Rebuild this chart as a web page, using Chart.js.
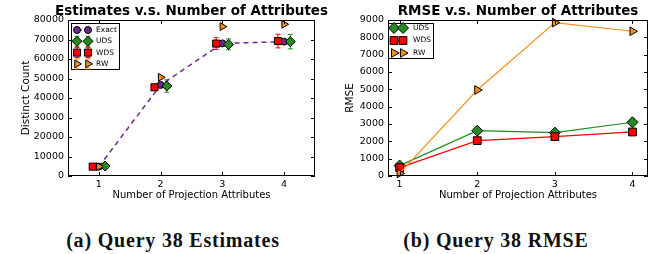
<!DOCTYPE html>
<html>
<head>
<meta charset="utf-8">
<script src="https://cdn.jsdelivr.net/npm/chart.js@4.4.1/dist/chart.umd.min.js"></script>
<style>
  body { margin: 0; background: #fff; width: 660px; height: 254px; position: relative; overflow: hidden; }
  canvas { position: absolute; top: 0; }
  #c1 { left: 0; }
  #c2 { left: 330px; }
  .cap { position: absolute; top: 229px; font: bold 20px "Liberation Serif", serif; letter-spacing: 0.8px; color: #111; white-space: nowrap; transform: translateX(-50%); }
</style>
</head>
<body>
<canvas id="c1" width="330" height="203"></canvas>
<canvas id="c2" width="330" height="203"></canvas>
<div class="cap" style="left:173px">(a) Query 38 Estimates</div>
<div class="cap" style="left:496px">(b) Query 38 RMSE</div>
<script>
// number of projection attributes (x positions)
const attrs = [1, 2, 3, 4];
const xTickValues = [1, 2, 3, 4];

// (a) estimates of distinct count
const exactVals = [4800, 46700, 68000, 68900];
const udsVals = [5100, 46150, 67500, 68900];
const udsErr = [600, 3200, 2800, 3700];
const wdsVals = [4800, 45500, 67900, 69200];
const wdsErr = [400, 1500, 3000, 3500];
const rwVals = [4800, 50600, 76600, 77800];
const rwErr = [300, 400, 400, 400];

// (b) RMSE
const rmseUds = [600, 2615, 2500, 3100];
const rmseWds = [480, 2040, 2270, 2540];
const rmseRw = [150, 4960, 8850, 8350];

const PURPLE = '#6e2a8c';
const GREEN = '#228b22';
const RED = '#ff0000';
const ORANGE = '#ff8c1a';
const FONT = 'DejaVu Sans';

const pts = (vals, dx) => vals.map((v, i) => ({ x: attrs[i] + dx, y: v }));

// matplotlib-like frame with inward ticks on all four sides
const framePlugin = {
    id: 'frame',
    afterDraw(chart) {
        const { ctx, chartArea: a, scales } = chart;
        ctx.save();
        ctx.strokeStyle = '#000';
        ctx.lineWidth = 1;
        ctx.strokeRect(a.left + 0.5, a.top + 0.5, a.right - a.left - 1, a.bottom - a.top - 1);
        ctx.beginPath();
        scales.x.ticks.forEach(t => {
            const px = Math.round(scales.x.getPixelForValue(t.value)) + 0.5;
            ctx.moveTo(px, a.bottom); ctx.lineTo(px, a.bottom - 4);
            ctx.moveTo(px, a.top); ctx.lineTo(px, a.top + 4);
        });
        scales.y.ticks.forEach(t => {
            const py = Math.round(scales.y.getPixelForValue(t.value)) + 0.5;
            ctx.moveTo(a.left, py); ctx.lineTo(a.left + 4, py);
            ctx.moveTo(a.right, py); ctx.lineTo(a.right - 4, py);
        });
        ctx.stroke();
        ctx.restore();
    }
};

// bold title centred over the plot area
const titlePlugin = {
    id: 'plotTitle',
    afterDraw(chart, args, opts) {
        const { ctx, chartArea: a } = chart;
        ctx.save();
        ctx.font = 'bold 13.5px "' + FONT + '"';
        ctx.fillStyle = '#000';
        ctx.textAlign = 'center';
        ctx.textBaseline = 'middle';
        ctx.fillText(opts.text, (a.left + a.right) / 2, 11);
        ctx.restore();
    }
};

// vertical error bars with caps, from dataset.errors
const errorPlugin = {
    id: 'errorBars',
    beforeDatasetsDraw(chart) {
        const { ctx, scales: { x, y } } = chart;
        ctx.save();
        ctx.lineWidth = 1;
        chart.data.datasets.forEach(ds => {
            if (!ds.errors) return;
            ctx.strokeStyle = ds.backgroundColor;
            ctx.beginPath();
            ds.data.forEach((p, i) => {
                const px = x.getPixelForValue(p.x);
                const lo = y.getPixelForValue(p.y - ds.errors[i]);
                const hi = y.getPixelForValue(p.y + ds.errors[i]);
                ctx.moveTo(px, lo); ctx.lineTo(px, hi);
                ctx.moveTo(px - 2.5, lo); ctx.lineTo(px + 2.5, lo);
                ctx.moveTo(px - 2.5, hi); ctx.lineTo(px + 2.5, hi);
            });
            ctx.stroke();
        });
        ctx.restore();
    }
};

// boxed legend inside the plot, two markers per entry
const boxLegendPlugin = {
    id: 'boxLegend',
    afterDraw(chart, args, o) {
        const { ctx, chartArea: a } = chart;
        const x0 = a.left + o.dx, y0 = a.top + o.dy;
        ctx.save();
        ctx.fillStyle = '#fff';
        ctx.fillRect(x0, y0, o.w, o.h);
        ctx.strokeStyle = '#000';
        ctx.lineWidth = 1;
        ctx.strokeRect(x0 + 0.5, y0 + 0.5, o.w, o.h);
        o.order.forEach((di, row) => {
            const ds = chart.data.datasets[di];
            const cy = y0 + o.first + row * o.rowH;
            const m1 = x0 + o.m1, m2 = x0 + o.m2;
            if (ds.showLine !== false) {
                ctx.strokeStyle = ds.borderColor;
                ctx.lineWidth = ds.borderWidth;
                ctx.setLineDash(ds.borderDash || []);
                ctx.beginPath(); ctx.moveTo(m1, cy); ctx.lineTo(m2, cy); ctx.stroke();
                ctx.setLineDash([]);
            }
            if (ds.errors) {
                ctx.strokeStyle = ds.backgroundColor;
                ctx.lineWidth = 1;
                ctx.beginPath();
                [m1, m2].forEach(mx => {
                    ctx.moveTo(mx, cy - 5); ctx.lineTo(mx, cy + 5);
                    ctx.moveTo(mx - 2.5, cy - 5); ctx.lineTo(mx + 2.5, cy - 5);
                    ctx.moveTo(mx - 2.5, cy + 5); ctx.lineTo(mx + 2.5, cy + 5);
                });
                ctx.stroke();
            }
            [m1, m2].forEach(mx => {
                ctx.fillStyle = ds.backgroundColor;
                ctx.strokeStyle = '#000';
                ctx.lineWidth = 1;
                Chart.helpers.drawPoint(ctx, {
                    pointStyle: ds.pointStyle, radius: ds.pointRadius,
                    rotation: ds.pointRotation || 0, borderWidth: 1
                }, mx, cy);
            });
            ctx.fillStyle = '#000';
            ctx.font = '7.5px "' + FONT + '"';
            ctx.textBaseline = 'middle';
            ctx.textAlign = 'left';
            ctx.fillText(ds.label, x0 + o.tx, cy);
        });
        ctx.restore();
    }
};

function series(label, data, color, style, radius, extra) {
    return Object.assign({
        label, data,
        backgroundColor: color,
        borderColor: color,
        pointStyle: style,
        pointRadius: radius,
        pointHoverRadius: radius,
        pointBorderColor: '#000',
        pointBorderWidth: 1,
        borderWidth: 1.2,
        showLine: true,
        clip: false
    }, extra || {});
}

function axes(xmin, xmax, ymax, step, yWidth, yTitle, yTitlePad) {
    const tickFont = { family: FONT, size: 9.5 };
    return {
        x: {
            type: 'linear', min: xmin, max: xmax,
            afterBuildTicks: s => { s.ticks = xTickValues.map(v => ({ value: v })); },
            afterFit: s => { s.height = 27; },
            grid: { display: false, drawTicks: false }, border: { display: false },
            ticks: { color: '#000', font: tickFont, padding: 3, callback: v => String(v) },
            title: { display: true, text: 'Number of Projection Attributes', color: '#000',
                     font: { family: FONT, size: 10 }, padding: { top: 0, bottom: 2 } }
        },
        y: {
            min: 0, max: ymax,
            afterFit: s => { s.width = yWidth; },
            grid: { display: false, drawTicks: false }, border: { display: false },
            ticks: { color: '#000', font: tickFont, padding: 4, stepSize: step, callback: v => String(v) },
            title: { display: true, text: yTitle, color: '#000',
                     font: { family: FONT, size: 10.5 }, padding: { top: yTitlePad, bottom: 0 } }
        }
    };
}

new Chart(document.getElementById('c1'), {
    type: 'scatter',
    data: {
        datasets: [
            series('Exact', pts(exactVals, 0), PURPLE, 'circle', 3.5,
                   { borderDash: [5, 4], borderWidth: 1.5, order: 4 }),
            series('UDS', pts(udsVals, 0.1), GREEN, 'rectRot', 5,
                   { showLine: false, errors: udsErr, order: 3 }),
            series('WDS', pts(wdsVals, -0.1), RED, 'rect', 5,
                   { showLine: false, errors: wdsErr, order: 2 }),
            series('RW', pts(rwVals, 0), ORANGE, 'triangle', 4.5,
                   { showLine: false, errors: rwErr, pointRotation: 90, order: 1 })
        ]
    },
    options: {
        responsive: false,
        animation: false,
        layout: { padding: { top: 20, right: 15, left: 0, bottom: 0 } },
        scales: axes(0.5, 4.5, 80000, 10000, 68, 'Distinct Count', 20),
        plugins: {
            legend: { display: false },
            tooltip: { enabled: false },
            plotTitle: { text: 'Estimates v.s. Number of Attributes' },
            boxLegend: { dx: 3, dy: 3, w: 48, h: 46, first: 7, rowH: 11.3,
                         m1: 6, m2: 17, tx: 25, order: [0, 1, 2, 3] }
        }
    },
    plugins: [errorPlugin, framePlugin, boxLegendPlugin, titlePlugin]
});

new Chart(document.getElementById('c2'), {
    type: 'scatter',
    data: {
        datasets: [
            series('UDS', pts(rmseUds, 0), GREEN, 'rectRot', 5.5, { order: 3 }),
            series('WDS', pts(rmseWds, 0), RED, 'rect', 5.5, { order: 2 }),
            series('RW', pts(rmseRw, 0), ORANGE, 'triangle', 5, { pointRotation: 90, order: 1 })
        ]
    },
    options: {
        responsive: false,
        animation: false,
        layout: { padding: { top: 20, right: 12, left: 0, bottom: 0 } },
        scales: axes(0.85, 4.2, 9000, 1000, 58, 'RMSE', 14),
        plugins: {
            legend: { display: false },
            tooltip: { enabled: false },
            plotTitle: { text: 'RMSE v.s. Number of Attributes' },
            boxLegend: { dx: 0, dy: 3, w: 45, h: 35, first: 5, rowH: 12.5,
                         m1: 6, m2: 15, tx: 25, order: [0, 1, 2] }
        }
    },
    plugins: [errorPlugin, framePlugin, boxLegendPlugin, titlePlugin]
});
</script>
</body>
</html>
